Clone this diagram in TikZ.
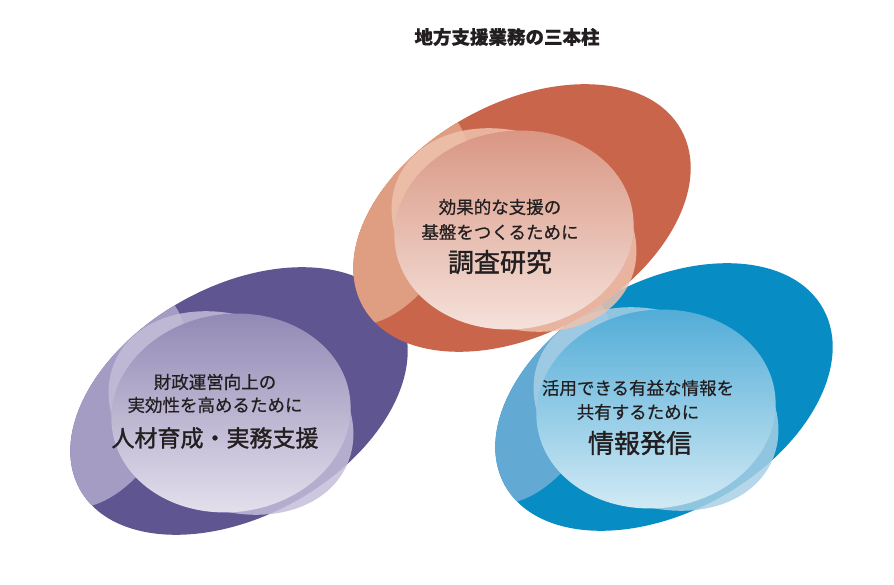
\documentclass[tikz,border=0pt]{standalone}
\usepackage{fontspec}
\newfontfamily\jp[FakeBold=0.6]{Noto Sans CJK JP}
\newfontfamily\jpm[FakeBold=1.4]{Noto Sans CJK JP}
\definecolor{odark}{HTML}{C9654A}
\definecolor{omed}{HTML}{DF9E81}
\definecolor{olt}{HTML}{EEC3AE}
\definecolor{otop}{HTML}{D89480}
\definecolor{obot}{HTML}{F6E4DE}
\definecolor{pdark}{HTML}{5F5591}
\definecolor{pmed}{HTML}{A59CC4}
\definecolor{plt}{HTML}{C4BDD9}
\definecolor{ptop}{HTML}{8F86B3}
\definecolor{pbot}{HTML}{E6E3EE}
\definecolor{bdark}{HTML}{078DC4}
\definecolor{bmed}{HTML}{62A9D4}
\definecolor{blt}{HTML}{A9CFE6}
\definecolor{btop}{HTML}{4DAAD6}
\definecolor{bbot}{HTML}{D6ECF6}
\definecolor{txt}{HTML}{231F20}
\newcommand\ringgroup[3]{%
 \begin{scope}[shift={(#1,-#2)}]
  \fill[#3dark, rotate=29] (0,0) ellipse [x radius=182pt, y radius=115pt];
  \begin{scope}
   \clip[rotate=29] (0,0) ellipse [x radius=182pt, y radius=115pt];
   \fill[#3med, rotate around={-25:(-132,4)}] (-132,4) ellipse [x radius=70pt, y radius=118pt];
  \end{scope}
  \fill[#3lt, opacity=0.85, rotate around={-24:(-8,-12)}] (-8,-12) ellipse [x radius=127pt, y radius=96pt];
  \shade[top color=#3top, bottom color=#3bot, rotate around={8:(-8,-12)}] (-8,-12) ellipse [x radius=120pt, y radius=99pt];
 \end{scope}}
\tikzset{
 small/.style={font=\jp\fontsize{17.5}{18}\selectfont, text=txt, inner sep=0pt},
 big/.style={font=\jpm\fontsize{26}{27}\selectfont, text=txt, inner sep=0pt},
 title/.style={font=\jp\bfseries\fontsize{18.5}{19}\selectfont, text=txt, inner sep=0pt}
}
\begin{document}
\begin{tikzpicture}[x=1pt,y=1pt]
\useasboundingbox (0,0) rectangle (894,-585);
\ringgroup{239}{401}{p}
\ringgroup{664}{397}{b}
\ringgroup{522}{218}{o}
\node[title] (t) at (507,-37) {地方支援業務の三本柱};
\node[small] (o1) at (500,-207) {効果的な支援の};
\node[small] (o2) at (500,-232) {基盤をつくるために};
\node[big] (o3) at (500,-262) {調査研究};
\node[small] (p1) at (215,-382) {財政運営向上の};
\node[small] (p2) at (215,-405) {実効性を高めるために};
\node[big, font=\jpm\fontsize{23}{24}\selectfont] (p3) at (215,-438) {人材育成・実務支援};
\node[small] (b1) at (638,-388) {活用できる有益な情報を};
\node[small] (b2) at (638,-412) {共有するために};
\node[big] (b3) at (640,-443) {情報発信};
\end{tikzpicture}
\end{document}
